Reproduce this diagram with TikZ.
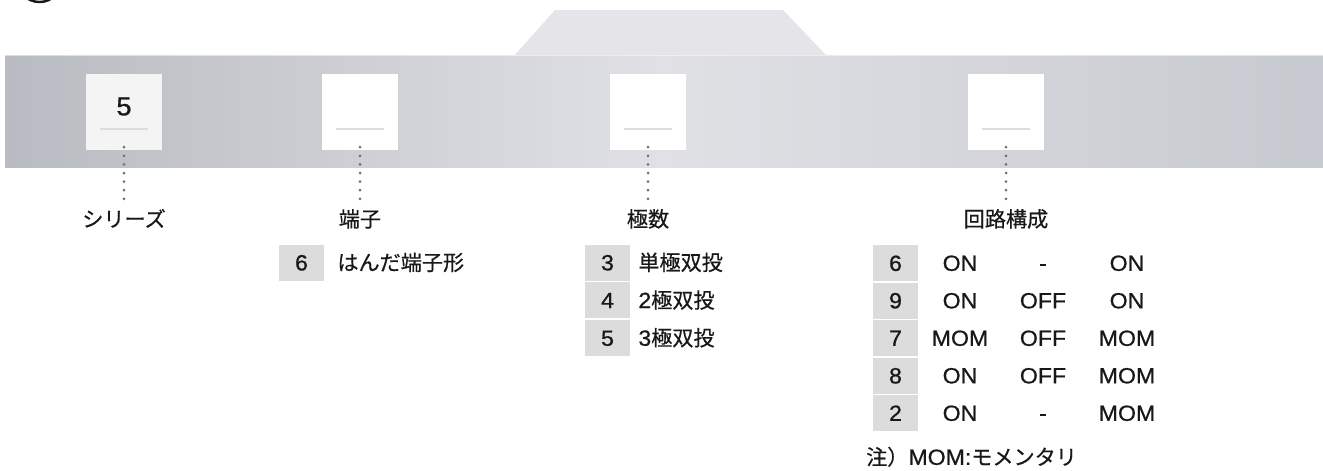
\documentclass[tikz,border=0pt]{standalone}
\usepackage{fontspec}
\setmainfont{Liberation Sans}[FakeStretch=1.05, FakeBold=0.8]
\newfontfamily\jp{Noto Sans CJK JP}[Scale=0.96, FakeBold=0.5]
\usetikzlibrary{positioning}

\definecolor{ink}{HTML}{1A1718}
\definecolor{cellgray}{HTML}{DCDCDC}
\definecolor{slotgray}{HTML}{F4F4F4}
\definecolor{metalL}{HTML}{B8BBC1}
\definecolor{metalM}{HTML}{E0E1E5}
\definecolor{metalR}{HTML}{C6C9CF}
\definecolor{dotgray}{HTML}{6F6F6F}
\newcommand\tabfont{\fontsize{22pt}{26pt}\selectfont}
\newcommand\slotfont{\fontsize{26pt}{30pt}\selectfont}

\begin{document}
\begin{tikzpicture}[x=1pt, y=-1pt,
  slot/.style={minimum width=76pt, minimum height=76pt, inner sep=0pt},
  txt/.style={inner sep=0pt, text height=15.7pt, text depth=0pt, text=ink, font=\tabfont},
  cell/.style={txt, fill=cellgray, minimum width=45pt, minimum height=36pt},
  dotline/.style={dotgray, line width=3pt, line cap=round, dash pattern=on 0pt off 8.6pt, shorten >=12pt}]
  \useasboundingbox (0,0) rectangle (1323,471);

  % Mark at the top left
  \begin{scope}
    \clip (0,0) rectangle (1323,471);
    \draw[ink, line width=2.4pt] (39.5,-21) circle[radius=23pt];
  \end{scope}

  % Metal plate
  \fill[metalM!85!white] (514,56) -- (555,10) -- (783,10) -- (827,56) -- cycle;
  \shade[left color=metalL, right color=metalR, middle color=metalM] (5,55) rectangle (1323,167);
  \draw[white, opacity=0.5, line width=1pt] (5,55.5) -- (1323,55.5);

  % Slots with their labels
  \foreach \nm/\x/\fc/\val/\lab in {ser/124/slotgray/5/シリーズ, term/360/white//端子, pole/648/white//極数, circ/1006/white//回路構成} {
    \node[slot, fill=\fc] (b\nm) at (\x,112) {};
    \node[txt, font=\slotfont, text height=18.6pt] (v\nm) at (\x,106) {\val};
    \draw[cellgray, line width=2pt] (\x-24,129) -- (\x+24,129);
    \node[txt] (l\nm) at (\x,219) {\jp\lab};
    \draw[dotline] ([yshift=3pt]b\nm.south) -- (l\nm);
  }

  % Terminal
  \node[cell] (t1) at (301.5,262.5) {6};
  \node[txt, right=13pt of t1] (tt1) {\jp はんだ端子形};

  % Poles
  \foreach \n/\t [count=\i] in {3/{\jp 単極双投}, 4/2{\jp 極双投}, 5/3{\jp 極双投}} {
    \node[cell] (p\i) at (607.5,{262.5+37.7*(\i-1)}) {\n};
    \node[txt, right=8pt of p\i] (pt\i) {\t};
  }

  % Circuits
  \foreach \n/\a/\b/\c [count=\i] in {6/ON/-/ON, 9/ON/OFF/ON, 7/MOM/OFF/MOM, 8/ON/OFF/MOM, 2/ON/-/MOM} {
    \node[cell] (k\i) at (895.5,{263+37.5*(\i-1)}) {\n};
    \node[txt] (ka\i) at (960,{263+37.5*(\i-1)}) {\a};
    \node[txt] (kb\i) at (1043,{263+37.5*(\i-1)}) {\b};
    \node[txt] (kc\i) at (1127,{263+37.5*(\i-1)}) {\c};
  }
  \node[txt, anchor=west] (note) at (866,457) {{\jp 注）}MOM:{\jp モメンタリ}};

\end{tikzpicture}
\end{document}
